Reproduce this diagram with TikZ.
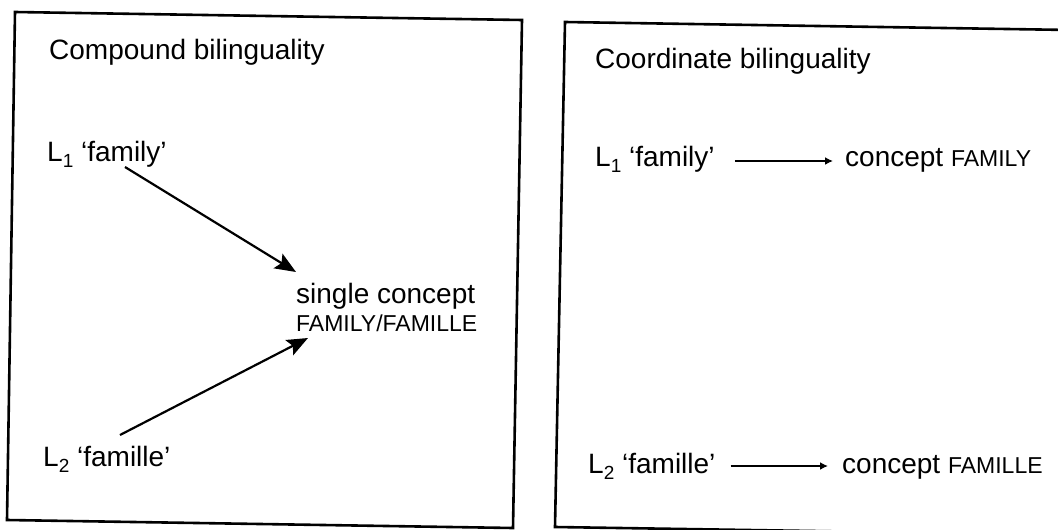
\documentclass[tikz,border=0pt]{standalone}
\usepackage{fontspec}
\setmainfont{Liberation Sans}
\usetikzlibrary{arrows.meta,calc}
\newcommand{\bigtxt}{\fontsize{28}{33}\selectfont}
\newcommand{\captxt}{\fontsize{23}{27}\selectfont}
\newcommand{\subtxt}[1]{\raisebox{-6pt}{\fontsize{19}{20}\selectfont #1}}
\tikzset{
  lbl/.style={anchor=base west, inner sep=0pt, font=\bigtxt},
  panel/.style={line width=2.6pt, line join=miter},
  bigarrow/.style={line width=2.2pt, -{Stealth[length=21pt,width=17pt,inset=4pt]}},
  smallarrow/.style={line width=1.8pt, -{Latex[length=8pt,width=8pt]}}
}
\begin{document}
\begin{tikzpicture}[x=1pt,y=-1pt]
\useasboundingbox (0,0) rectangle (1058,530);
% panels
\draw[panel] (15,12) -- (522,20) -- (513,528) -- (7,520) -- cycle;
\draw[panel] (1070,30) -- (565,22) -- (555,527) -- (1070,535);
% left panel
\node[lbl] (t1) at (49,59) {Compound bilinguality};
\node[lbl] (l1) at (47,161) {L\subtxt{1} ‘family’};
\node[lbl] (l2) at (43,466) {L\subtxt{2} ‘famille’};
\node[lbl] (sc1) at (296,303) {single concept};
\node[lbl, font=\captxt] (sc2) at (296,331) {FAMILY/FAMILLE};
\coordinate (a1s) at (125,167);
\coordinate (a1e) at (296,272);
\coordinate (a2s) at (120,435);
\coordinate (a2e) at (308,338);
\draw[bigarrow] (a1s) -- (a1e);
\draw[bigarrow] (a2s) -- (a2e);
% right panel
\node[lbl] (t2) at (595,68) {Coordinate bilinguality};
\node[lbl] (r1) at (595,166) {L\subtxt{1} ‘family’};
\node[lbl] (c1) at (845,166) {concept {\captxt FAMILY}};
\node[lbl] (r2) at (588,473) {L\subtxt{2} ‘famille’};
\node[lbl] (c2) at (842,473) {concept {\captxt FAMILLE}};
\draw[smallarrow] ([xshift=20pt,yshift=5pt]r1.base east) -- ([xshift=-12pt,yshift=5pt]c1.base west);
\draw[smallarrow] ([xshift=15pt,yshift=7pt]r2.base east) -- ([xshift=-14pt,yshift=7pt]c2.base west);
\end{tikzpicture}
\end{document}
